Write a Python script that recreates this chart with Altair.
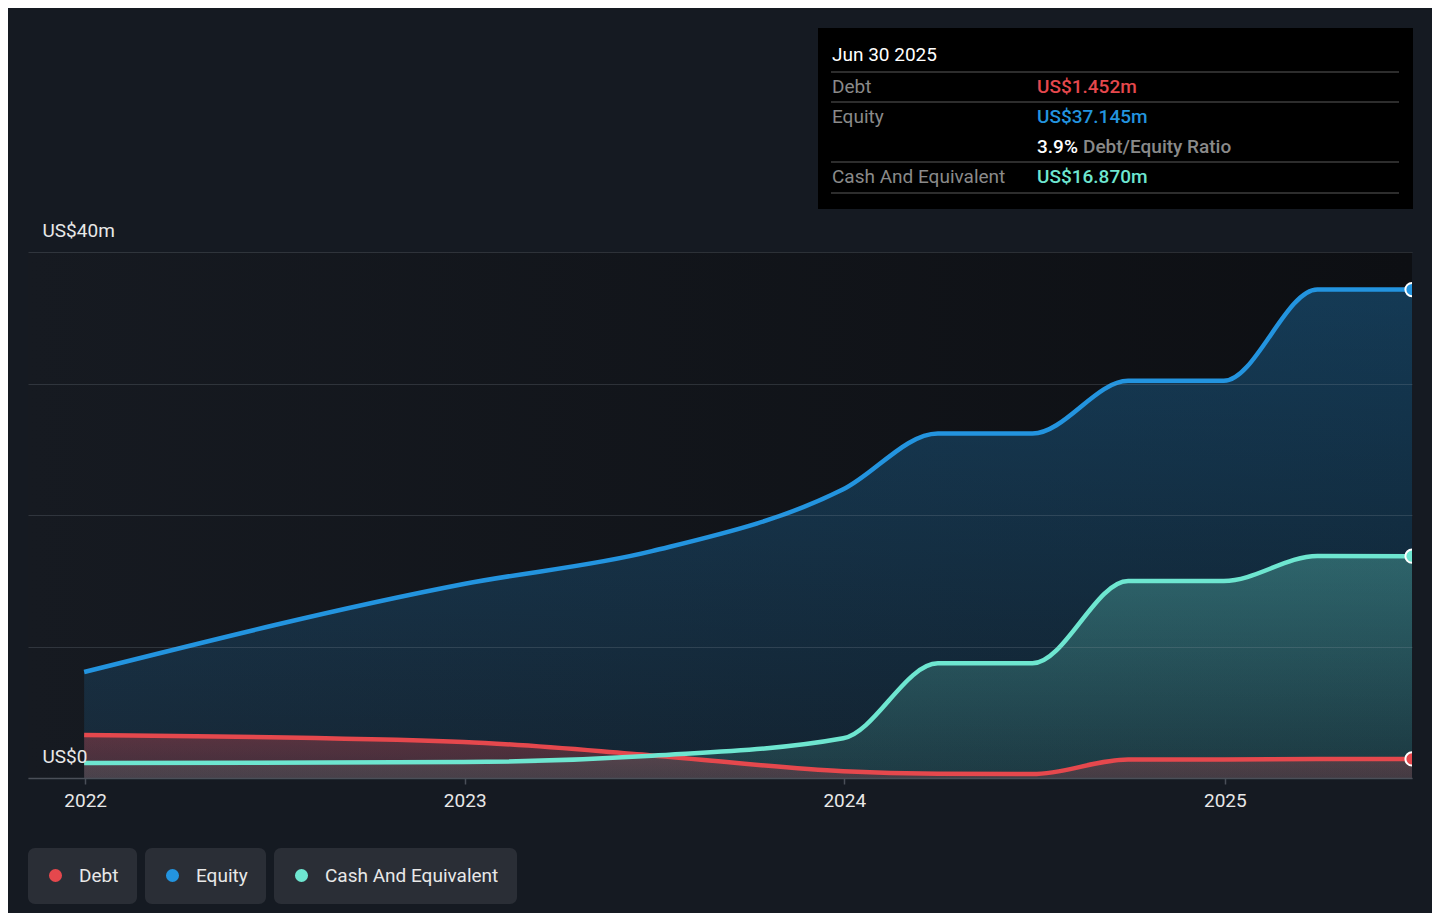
import altair as alt
import pandas as pd

# ---------------- data ----------------
dates = ["2021-12-31", "2022-12-31", "2023-06-30", "2023-12-31", "2024-03-31",
         "2024-06-30", "2024-09-30", "2024-12-31", "2025-03-31", "2025-06-30"]
debt = [3.27, 2.74, 1.72, 0.52, 0.33, 0.30, 1.40, 1.40, 1.45, 1.452]
equity = [8.06, 14.75, 17.25, 21.95, 26.2, 26.2, 30.2, 30.2, 37.15, 37.145]
cash = [1.14, 1.22, 1.70, 3.02, 8.72, 8.72, 14.98, 14.98, 16.88, 16.870]

series_names = ["Debt", "Equity", "Cash And Equivalent"]
series_colors = ["#e5484d", "#2394df", "#6ee6d0"]
series_rgb = ["229,72,77", "35,148,223", "110,230,208"]
series_values = [debt, equity, cash]

y_ticks = [0, 10, 20, 30, 40]
y_tick_labels = {0: "US$0", 40: "US$40m"}
x_tick_years = [2022, 2023, 2024, 2025]

rows = []
for name, vals in zip(series_names, series_values):
    for d, v in zip(dates, vals):
        rows.append({"date": d, "value": v, "series": name})
df = pd.DataFrame(rows)
one = pd.DataFrame({"k": [0]})

W, H = 1384, 526
FONT = "Roboto"
BG = "#151a22"

x_scale = alt.Scale(
    type="utc",
    domain=[alt.DateTime(year=2021, month=11, date=7, utc=True),
            alt.DateTime(year=2025, month=6, date=30, utc=True)],
)
y_scale = alt.Scale(domain=[0, 40], nice=False, zero=True)

x_axis = alt.Axis(
    values=[alt.DateTime(year=y, month=1, date=1, utc=True) for y in x_tick_years],
    format="%Y", grid=False, domain=True, domainColor="#4a4f58", domainWidth=1.5,
    ticks=True, tickColor="#4a4f58", tickSize=6, tickWidth=1.5,
    labelColor="#e8e8e8", labelFont=FONT, labelFontSize=19, labelPadding=7,
    labelFlush=False, labelOverlap=False, title=None, zindex=1,
)
label_expr = " : ".join(
    [f"datum.value == {k} ? '{v}'" for k, v in y_tick_labels.items()]
) + " : ''"
y_axis = alt.Axis(
    values=y_ticks, grid=True, gridColor="#9aa3ad", gridOpacity=0.2, gridWidth=1,
    domain=False, ticks=False, labelAlign="left", labelPadding=-14,
    labelBaseline="alphabetic", labelOffset=-16, labelExpr=label_expr,
    labelColor="#e8e8e8", labelFont=FONT, labelFontSize=19,
    labelFlush=False, labelOverlap=False, title=None, zindex=1,
)

X = alt.X("date:T", scale=x_scale, axis=x_axis, title=None)
Y = alt.Y("value:Q", scale=y_scale, axis=y_axis, title=None)

# plot-area background
bg = alt.Chart(one).mark_rect(
    color=alt.Gradient(gradient="linear", x1=0, x2=1, y1=0, y2=0,
                       stops=[alt.GradientStop(color="#161a21", offset=0),
                              alt.GradientStop(color="#0d0f13", offset=1)])
).encode(x=alt.value(0), x2=alt.value(W), y=alt.value(0), y2=alt.value(H))

layers = [bg]

area_order = ["Equity", "Cash And Equivalent", "Debt"]
area_alpha = {"Equity": (0.32, 0.12), "Cash And Equivalent": (0.30, 0.12), "Debt": (0.32, 0.2)}
for name in area_order:
    i = series_names.index(name)
    a0, a1 = area_alpha[name]
    grad = alt.Gradient(
        gradient="linear", x1=0, x2=0, y1=0, y2=1,
        stops=[alt.GradientStop(color=f"rgba({series_rgb[i]},{a0})", offset=0),
               alt.GradientStop(color=f"rgba({series_rgb[i]},{a1})", offset=1)],
    )
    layers.append(
        alt.Chart(df).transform_filter(alt.datum.series == name)
        .mark_area(interpolate="monotone", color=grad, clip=True)
        .encode(x=X, y=Y)
    )

for name in ["Debt", "Equity", "Cash And Equivalent"]:
    i = series_names.index(name)
    layers.append(
        alt.Chart(df).transform_filter(alt.datum.series == name)
        .mark_line(interpolate="monotone", strokeWidth=4.5, clip=True)
        .encode(x=X, y=Y, color=alt.value(series_colors[i]))
    )

legend_common = dict(
    title=None, orient="bottom", direction="horizontal", fillColor="#2a2e36",
    cornerRadius=7, padding=18, symbolType="circle", symbolSize=170,
    symbolStrokeWidth=0, labelFont=FONT, labelFontSize=19, labelColor="#e8e8e8",
    labelOffset=14, labelLimit=0, offset=38,
)
for name, vals, col in zip(series_names, series_values, series_colors):
    end_df = pd.DataFrame({"date": [dates[-1]], "value": [vals[-1]], "series": [name]})
    layers.append(
        alt.Chart(end_df).mark_circle(size=175, opacity=1, stroke="white",
                                      strokeWidth=2, clip=True)
        .encode(x=X, y=Y,
                color=alt.Color("series:N",
                                scale=alt.Scale(domain=[name], range=[col]),
                                legend=alt.Legend(**legend_common)))
    )

# ---------------- tooltip panel ----------------
last_date = pd.Timestamp(dates[-1]).strftime("%b %d %Y")
ratio = debt[-1] / equity[-1] * 100

layers.append(alt.Chart(one).mark_rect(color="#000000").encode(
    x=alt.value(790), x2=alt.value(1385), y=alt.value(-224), y2=alt.value(-43)))
for yy in [-180, -150, -90, -59]:
    layers.append(alt.Chart(one).mark_rule(color="#3c3c3c", strokeWidth=1.5).encode(
        x=alt.value(803), x2=alt.value(1371), y=alt.value(yy)))


def txt(s, x, y, color, weight="normal"):
    return alt.Chart(one).mark_text(
        align="left", baseline="middle", font=FONT, fontSize=19,
        fontWeight=weight, color=color,
    ).encode(x=alt.value(x), y=alt.value(y), text=alt.value(s))


GRAY = "#8a8a8a"
layers += [
    txt(last_date, 804, -197, "#ffffff"),
    txt("Debt", 804, -165, GRAY),
    txt(f"US${debt[-1]:.3f}m", 1009, -165, series_colors[0], 500),
    txt("Equity", 804, -135, GRAY),
    txt(f"US${equity[-1]:.3f}m", 1009, -135, series_colors[1], 500),
    txt(f"{ratio:.1f}%", 1009, -105, "#ffffff", 500),
    txt("Debt/Equity Ratio", 1055, -105, GRAY, 500),
    txt("Cash And Equivalent", 804, -75, GRAY),
    txt(f"US${cash[-1]:.3f}m", 1009, -75, series_colors[2], 500),
]

chart = alt.layer(*layers).resolve_scale(color="independent").properties(
    width=W, height=H,
    autosize=alt.AutoSizeParams(type="none"),
    padding={"left": 20, "top": 244, "right": 20, "bottom": 135},
    background=BG,
).configure(font=FONT).configure_view(strokeWidth=0, stroke=None)

chart.save("out.html", embed_options={"renderer": "svg", "actions": False})
